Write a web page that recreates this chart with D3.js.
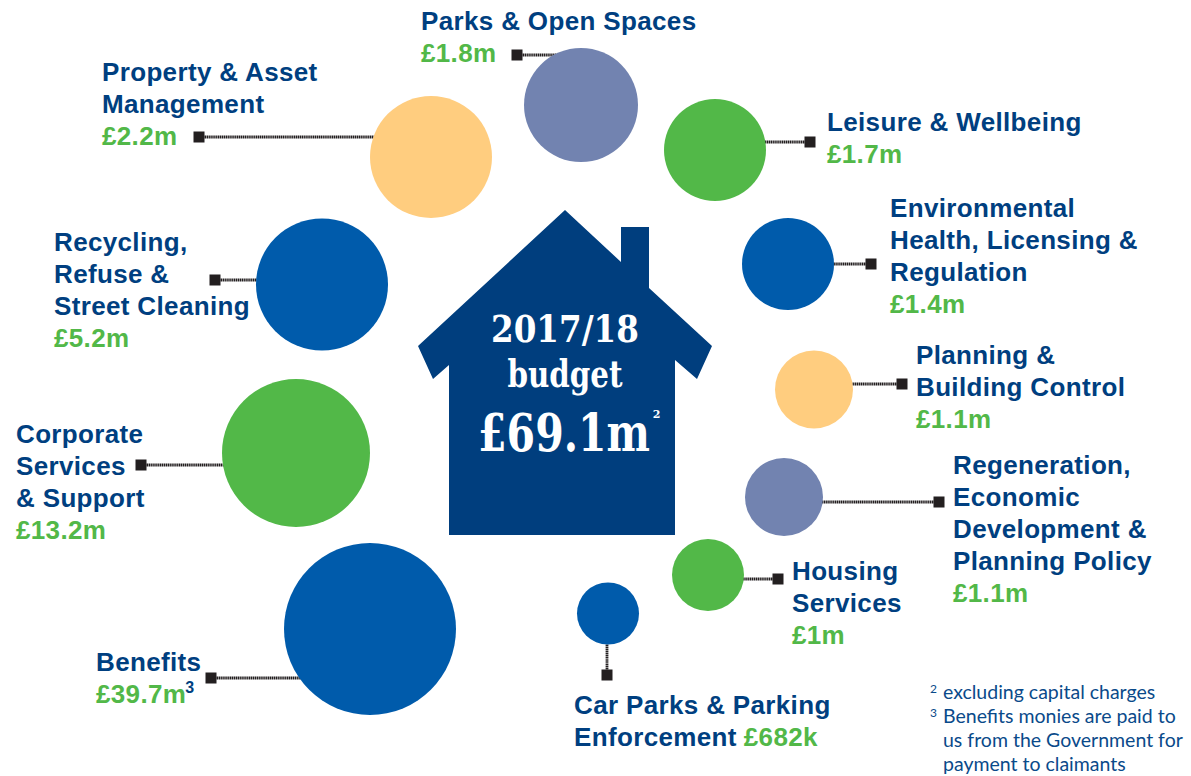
<!DOCTYPE html>
<html>
<head>
<meta charset="utf-8">
<script src="https://cdn.jsdelivr.net/npm/d3@7"></script>
<style>
  html, body { margin: 0; padding: 0; background: #fff; }
  svg { display: block; }
  .label { font-family: "Liberation Sans", Arial, sans-serif; font-weight: 700; font-size: 26px; letter-spacing: 0.35px; fill: #003f80; }
  .amount { fill: #52b848; }
  .note { font-family: Lato, "Open Sans", sans-serif; font-size: 19.5px; fill: #0a4a8a; }
  .house-text { font-family: "DejaVu Serif", serif; font-weight: 700; fill: #fff; text-anchor: middle; }
</style>
</head>
<body>
<div id="container"></div>
<script>
// chart data
var categories = ["Parks & Open Spaces", "Leisure & Wellbeing", "Environmental Health, Licensing & Regulation",
  "Planning & Building Control", "Regeneration, Economic Development & Planning Policy", "Housing Services",
  "Car Parks & Parking Enforcement", "Benefits", "Corporate Services & Support",
  "Recycling, Refuse & Street Cleaning", "Property & Asset Management"];
var values = [1.8, 1.7, 1.4, 1.1, 1.1, 1, 0.682, 39.7, 13.2, 5.2, 2.2];
var valueLabels = ["£1.8m", "£1.7m", "£1.4m", "£1.1m", "£1.1m", "£1m", "£682k", "£39.7m", "£13.2m", "£5.2m", "£2.2m"];
var footnotes = ["excluding capital charges", "Benefits monies are paid to", "us from the Government for", "payment to claimants"];

// bubble radius is not linear in the original, so use a multi-stop scale
var radius = d3.scaleLinear()
  .domain([0.682, 1, 1.1, 1.4, 1.7, 1.8, 2.2, 5.2, 13.2, 39.7])
  .range([31, 36, 39, 46, 51, 57, 61, 66, 74, 86]);

var colour = {blue: "#005bab", green: "#52b848", orange: "#ffcd7f", slate: "#7283b0"};

// layout of each item, same order as categories
var layout = [
  {cx: 581, cy: 105, fill: "slate", sq: [517, 55], lines: ["Parks & Open Spaces"], x: 421, y: 30},
  {cx: 715, cy: 150, fill: "green", sq: [810, 142], lines: ["Leisure & Wellbeing"], x: 827, y: 131},
  {cx: 788, cy: 264, fill: "blue", sq: [871, 264], lines: ["Environmental", "Health, Licensing &", "Regulation"], x: 890, y: 217},
  {cx: 814, cy: 389.5, fill: "orange", sq: [902, 384], lines: ["Planning &", "Building Control"], x: 916, y: 364},
  {cx: 784, cy: 497, fill: "slate", sq: [939, 502], lines: ["Regeneration,", "Economic", "Development &", "Planning Policy"], x: 953, y: 474},
  {cx: 708, cy: 575, fill: "green", sq: [778, 579], lines: ["Housing", "Services"], x: 792, y: 580},
  {cx: 608, cy: 613.5, fill: "blue", sq: [607, 675], lines: ["Car Parks & Parking", "Enforcement"], x: 574, y: 714, inline: true},
  {cx: 370, cy: 629, fill: "blue", sq: [211, 678], lines: ["Benefits"], x: 96, y: 671, sup: "3"},
  {cx: 296, cy: 453, fill: "green", sq: [141, 465], lines: ["Corporate", "Services", "& Support"], x: 16, y: 443},
  {cx: 322, cy: 284.5, fill: "blue", sq: [215, 280], lines: ["Recycling,", "Refuse &", "Street Cleaning"], x: 54, y: 251},
  {cx: 431, cy: 157, fill: "orange", sq: [199, 137], lines: ["Property & Asset", "Management"], x: 102, y: 81}
];

var lineGap = 32;

var items = categories.map(function(c, i) {
  return Object.assign({name: c, value: values[i], valueLabel: valueLabels[i]}, layout[i]);
});

var svg = d3.select("#container").append("svg")
  .attr("width", 1191)
  .attr("height", 776);

//leader lines go under the bubbles
svg.append("g").selectAll("line")
  .data(items)
  .enter().append("line")
  .attr("x1", function(d) { return d.sq[0]; })
  .attr("y1", function(d) { return d.sq[1]; })
  .attr("x2", function(d) { return d.sq[0] === 607 ? d.sq[0] : d.cx; })
  .attr("y2", function(d) { return d.sq[0] === 607 ? d.cy : d.sq[1]; })
  .attr("stroke", "#231f20")
  .attr("stroke-width", 2.8)
  .attr("stroke-dasharray", "1.4 0.5");

svg.append("g").selectAll("rect")
  .data(items)
  .enter().append("rect")
  .attr("x", function(d) { return d.sq[0] - 5.5; })
  .attr("y", function(d) { return d.sq[1] - 5.5; })
  .attr("width", 11)
  .attr("height", 11)
  .attr("fill", "#231f20");

svg.append("g").selectAll("circle")
  .data(items)
  .enter().append("circle")
  .attr("cx", function(d) { return d.cx; })
  .attr("cy", function(d) { return d.cy; })
  .attr("r", function(d) { return radius(d.value); })
  .attr("fill", function(d) { return colour[d.fill]; });

//labels
var label = svg.append("g").selectAll("text")
  .data(items)
  .enter().append("text")
  .attr("class", "label");

label.each(function(d) {
  var t = d3.select(this);
  d.lines.forEach(function(line, i) {
    t.append("tspan").attr("x", d.x).attr("y", d.y + i * lineGap).text(line);
  });
  var amount = t.append("tspan").attr("class", "amount").text(d.valueLabel);
  if (d.inline) {
    amount.attr("dx", 7);
  } else {
    amount.attr("x", d.x).attr("y", d.y + d.lines.length * lineGap);
  }
  if (d.sup) {
    t.append("tspan").attr("dy", -10).attr("dx", -1).attr("font-size", 16).text(d.sup);
  }
});

//house
var house = [[565, 210], [621, 262], [621, 227], [649, 227], [649, 288], [712, 346], [697, 379], [675, 360],
  [675, 535], [449, 535], [449, 365], [433, 379], [418, 346]];

svg.append("path")
  .attr("d", d3.line()(house) + "Z")
  .attr("fill", "#003e7e");

// squeeze the serif to the width in the original with a transform
function houseText(str, x, y, size, len) {
  var t = svg.append("text")
    .attr("class", "house-text")
    .attr("font-size", size)
    .text(str);
  var k = len / t.node().getComputedTextLength();
  t.attr("transform", "translate(" + x + "," + y + ") scale(" + k + ",1)");
}
houseText("2017/18", 565, 342, 38, 148);
houseText("budget", 565, 387, 38, 115);
houseText("£69.1m", 564, 451, 52, 172);
svg.append("text").attr("class", "house-text").attr("x", 656.5).attr("y", 418).attr("font-size", 11).text("2");

//footnotes
var notes = svg.append("g").attr("class", "note");
notes.selectAll("text")
  .data(footnotes)
  .enter().append("text")
  .attr("x", 943)
  .attr("y", function(d, i) { return 699 + i * 24; })
  .text(function(d) { return d; });
notes.append("text").attr("x", 930).attr("y", 693).attr("font-size", 12).text("2");
notes.append("text").attr("x", 930).attr("y", 717).attr("font-size", 12).text("3");
</script>
</body>
</html>
